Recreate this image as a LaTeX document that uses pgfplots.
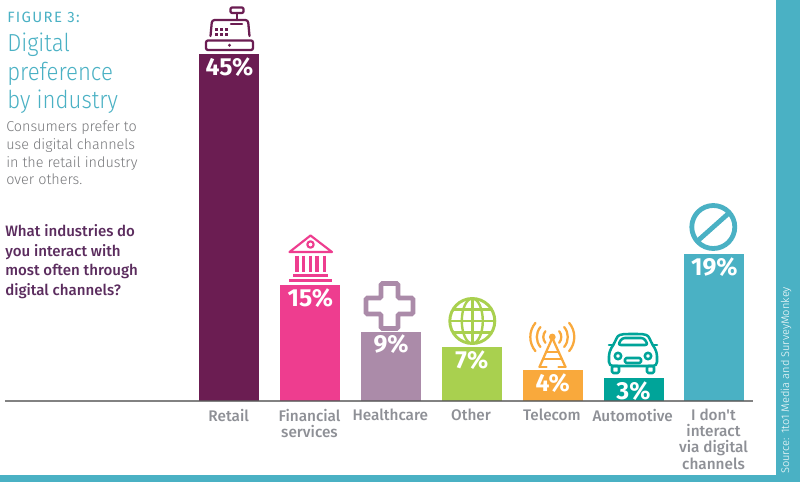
\documentclass[border=0pt]{standalone}
\usepackage{pgfplots}
\pgfplotsset{compat=1.18}
\usepackage{fontspec}
\setmainfont{Fira Sans}
\newfontfamily\lightf{Fira Sans Light}
\newfontfamily\titlef[FakeStretch=0.9]{Fira Sans Light}
\newfontfamily\medf{Fira Sans Medium}
\definecolor{teal1}{HTML}{4AB1C4}
\definecolor{retail}{HTML}{6B1D52}
\definecolor{fin}{HTML}{EE3D8F}
\definecolor{health}{HTML}{AB8BA9}
\definecolor{other}{HTML}{A9D04F}
\definecolor{tele}{HTML}{F9A93C}
\definecolor{auto}{HTML}{00A499}
\definecolor{gtxt}{HTML}{8E9096}
\definecolor{body}{HTML}{77787B}
\definecolor{ques}{HTML}{5B2C5E}
\begin{document}
\begin{tikzpicture}
\path[use as bounding box] (0pt,0pt) rectangle (600pt,-361.5pt);
\begin{scope}[x=0.75pt,y=-0.75pt]
\fill[white] (0,0) rectangle (800,482);
\fill[teal1] (776,0) rectangle (800,482);
\fill[teal1] (0,475) rectangle (800,482);
\end{scope}
\begin{axis}[
  at={(3.75pt,-300.75pt)}, anchor=south west, scale only axis,
  width=561pt, height=300.75pt,
  xmin=-2.778, xmax=6.479, ymin=0, ymax=52,
  clip=false, axis on top,
  ybar, bar width=45pt, bar shift=0pt,
  axis x line=bottom, axis y line=none,
  axis line style={-, draw=black!65!white, draw opacity=0.75, line width=1.6pt},
  xtick={0,1,2,3,4,5,6},
  xticklabels={Retail,{Financial\\services},Healthcare,Other,Telecom,Automotive,{I don't\\interact\\via digital\\channels}},
  xtick style={draw=none},
  xticklabel style={align=center, font=\medf\fontsize{11.5}{12.2}\selectfont, text=gtxt, anchor=north, yshift=-2.5pt, xshift=-0.6pt, inner sep=1pt},
  ytick=\empty,
  nodes near coords={\pgfmathprintnumber[assume math mode=true]{\pgfplotspointmeta}\%},
  nodes near coords style={anchor=north, text=white, font=\bfseries\fontsize{18.5}{19}\selectfont, yshift=-1.5pt, inner sep=1pt},
]
\addplot[fill=retail,draw=none] coordinates {(0,45)};
\addplot[fill=fin,draw=none] coordinates {(1,15)};
\addplot[fill=health,draw=none] coordinates {(2,9)};
\addplot[fill=other,draw=none] coordinates {(3,7)};
\addplot[fill=tele,draw=none] coordinates {(4,4)};
\addplot[fill=auto,draw=none] coordinates {(5,3)};
\addplot[fill=teal1,draw=none] coordinates {(6,19)};
\end{axis}
\begin{scope}[x=0.75pt,y=-0.75pt]
% text block
\node[anchor=base west,inner sep=0,text=teal1,font=\fontsize{11.2}{12}\selectfont] at (7,22) {\addfontfeatures{LetterSpace=9}FIGURE 3:};
\node[anchor=base west,inner sep=0,text=teal1,font=\titlef\fontsize{18.5}{21}\selectfont] at (7,51) {Digital};
\node[anchor=base west,inner sep=0,text=teal1,font=\titlef\fontsize{18.5}{21}\selectfont] at (7,80) {preference};
\node[anchor=base west,inner sep=0,text=teal1,font=\titlef\fontsize{18.5}{21}\selectfont] at (7,108) {by industry};
\foreach \t/\y in {Consumers prefer to/131,use digital channels/149,in the retail industry/167,over others./184}
  \node[anchor=base west,inner sep=0,text=body,font=\lightf\fontsize{10.8}{12}\selectfont] at (6,\y) {\t};
\foreach \t/\y in {What industries do/236,you interact with/256,most often through/275,digital channels?/295}
  \node[anchor=base west,inner sep=0,text=ques,font=\medf\fontsize{11.3}{12}\selectfont] at (5,\y) {\t};
\node[rotate=90,anchor=base west,inner sep=0,text=white,font=\lightf\fontsize{8.3}{10}\selectfont] at (789,474) {Source: 1to1 Media and SurveyMonkey};
% register icon
\begin{scope}[draw=retail,line width=1.7pt,line join=round,line cap=round]
\draw[rounded corners=1.5pt] (206,40.5) rectangle (253,50);
\draw[rounded corners=2pt] (210.5,36) -- (212,20) -- (248,20) -- (249.5,36);
\draw[rounded corners=1pt] (230.5,7.5) rectangle (243.5,13);
\draw (237,13) -- (237,20);
\draw (231,24) -- (242,24);
\fill[retail] (229.5,45.2) circle (1.6);
\foreach \xx in {216,221,226}{\fill[retail] (\xx-1.5,27.5) rectangle (\xx+1.5,30.5);\fill[retail] (\xx-1.5,33) rectangle (\xx+1.5,36);}
\end{scope}
% bank icon
\begin{scope}[draw=fin,line width=1.6pt,line join=round]
\draw (310.5,235.5) -- (289.5,252) -- (332,252) -- cycle;
\draw (310.5,244.5) circle (3.2);
\foreach \xx in {297,303.5,310.5,317,324.5}{\draw[line width=2.3pt] (\xx,255.5) -- (\xx,271.5);}
\draw[line width=2pt] (293,275.5) -- (328,275.5);
\draw[line width=2pt] (289,280.8) -- (332,280.8);
\end{scope}
% cross icon
\draw[health,line width=3.4pt,rounded corners=1pt,fill=white] (381,283.5)--(398,283.5)--(398,298)--(413,298)--(413,314)--(398,314)--(398,328.5)--(381,328.5)--(381,314)--(366,314)--(366,298)--(381,298)--cycle;
% globe icon
\begin{scope}[draw=other,line width=1.8pt]
\draw[line width=2.2pt] (472.3,321) circle (22.5);
\draw (472.3,321) ellipse (10.5 and 22.5);
\draw (472.3,298.5) -- (472.3,343.5);
\draw (449.8,321) -- (494.8,321);
\draw (453,309.5) -- (491.5,309.5);
\draw (453,332.5) -- (491.5,332.5);
\end{scope}
% tower icon
\begin{scope}[draw=tele,line width=1.7pt,line cap=round,line join=round]
\fill[tele] (552.3,337) circle (3.4);
\draw (552.3,338) -- (539.5,367);
\draw (552.3,338) -- (565.5,367);
\draw (539.5,367) -- (546.5,367);
\draw (558.5,367) -- (565.5,367);
\draw (546,352) -- (558.5,352);
\draw (543.5,359) -- (561.5,359);
\foreach \r in {9,15.5,22}{
  \draw (552.3,337) ++ ({\r*cos(140)},{\r*sin(140)}) arc[start angle=140,end angle=220,radius=\r];
  \draw (552.3,337) ++ ({\r*cos(-40)},{\r*sin(-40)}) arc[start angle=-40,end angle=40,radius=\r];
}
\end{scope}
% car icon
\begin{scope}[draw=auto,line width=1.9pt,line join=round,line cap=round]
\draw[rounded corners=3pt] (609,352) -- (615,342) .. controls (618,335) and (620,334) .. (633,334) .. controls (646,334) and (648,335) .. (651,342) -- (657,352) -- (657,366) -- (609,366) -- cycle;
\draw[rounded corners=2pt] (618,345) -- (622,338) -- (644,338) -- (648,345) -- cycle;
\draw[rounded corners=1pt] (612,366) rectangle (619,373);
\draw[rounded corners=1pt] (647,366) rectangle (654,373);
\draw (618,356) circle (3.2);
\draw (648,356) circle (3.2);
\draw[rounded corners=1pt] (625,358) rectangle (641,363);
\draw (609,345) -- (613.5,345);
\draw (652.5,345) -- (657,345);
\end{scope}
% no-sign icon
\draw[teal1,line width=3.6pt] (713.3,227) circle (21.5);
\draw[teal1,line width=3.6pt] (697.5,241) -- (729,213);
\end{scope}
\end{tikzpicture}
\end{document}
